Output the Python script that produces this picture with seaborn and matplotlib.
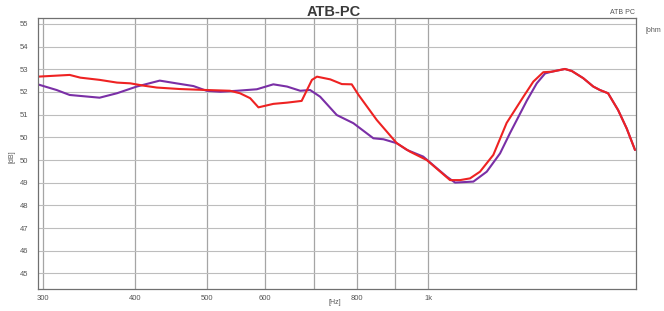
import matplotlib
matplotlib.use("Agg")
import matplotlib.pyplot as plt
import seaborn as sns
import pandas as pd
import numpy as np

# ---- data ----
red_freq = [295, 326, 337, 358, 378, 394, 410, 428, 460, 500, 538, 555, 573, 588,
            616, 643, 673, 695, 706, 736, 763, 787, 804, 851, 906, 944, 995, 1070,
            1104, 1139, 1175, 1225, 1277, 1345, 1388, 1432, 1470, 1532, 1565, 1622,
            1674, 1709, 1753, 1809, 1858, 1907]
red_db = [52.87, 52.94, 52.83, 52.74, 52.63, 52.60, 52.51, 52.43, 52.37, 52.33, 52.30,
          52.20, 52.00, 51.63, 51.77, 51.82, 51.89, 52.74, 52.87, 52.76, 52.57, 52.56,
          52.13, 51.12, 50.18, 49.84, 49.50, 48.69, 48.69, 48.76, 49.03, 49.71, 51.00,
          52.05, 52.67, 53.05, 53.07, 53.18, 53.10, 52.81, 52.47, 52.33, 52.20, 51.52,
          50.78, 49.91]

purple_freq = [295, 313, 326, 358, 378, 402, 432, 455, 480, 500, 522, 550, 585, 616,
               643, 670, 691, 713, 751, 791, 842, 869, 906, 935, 984, 1021, 1059, 1087,
               1151, 1200, 1251, 1291, 1360, 1403, 1440, 1470, 1532, 1565, 1622, 1674,
               1709, 1753, 1809, 1858, 1907]
purple_db = [52.56, 52.33, 52.13, 52.02, 52.20, 52.47, 52.71, 52.60, 52.49, 52.30, 52.26,
             52.30, 52.36, 52.56, 52.47, 52.30, 52.33, 52.06, 51.32, 50.99, 50.38, 50.34,
             50.18, 49.91, 49.64, 49.23, 48.83, 48.59, 48.63, 49.03, 49.77, 50.60, 51.90,
             52.60, 53.00, 53.07, 53.18, 53.10, 52.81, 52.47, 52.33, 52.20, 51.52, 50.78,
             49.91]

y_tick_labels = ["55", "54", "53", "52", "51", "50", "50", "49", "48", "47", "46", "45"]
x_tick_values = [300, 400, 500, 600, 700, 800, 900, 1000]
x_tick_labels = ["300", "400", "500", "600", "", "800", "", "1k"]
series_names = ["purple", "red"]

df = pd.concat([
    pd.DataFrame({"freq": purple_freq, "db": purple_db, "series": "purple"}),
    pd.DataFrame({"freq": red_freq, "db": red_db, "series": "red"}),
], ignore_index=True)

sns.set_style("white")
plt.rcParams["font.family"] = ["Liberation Sans", "DejaVu Sans"]

fig = plt.figure(figsize=(6.64, 3.11), dpi=100)
ax = fig.add_axes([38 / 664, 1 - 289 / 311, 598 / 664, 271 / 311])

sns.lineplot(data=df, x="freq", y="db", hue="series", hue_order=series_names,
             palette={"purple": "#7a2fa6", "red": "#ee2222"}, sort=False,
             estimator=None, linewidth=1.5, legend=False, ax=ax)

ax.set_xscale("log")
ax.set_xlim(295.3, 1913)
ax.set_ylim(44.29, 55.24)

y_ticks = [55 - k * 11 / 12 for k in range(len(y_tick_labels))]
ax.set_yticks(y_ticks)
ax.set_yticklabels(y_tick_labels)
ax.set_xticks(x_tick_values)
ax.set_xticklabels(x_tick_labels)
ax.xaxis.set_minor_locator(matplotlib.ticker.NullLocator())
ax.tick_params(axis="both", length=0, labelsize=5.5, colors="#555555")
ax.tick_params(axis="y", pad=7)
ax.tick_params(axis="x", pad=4)

ax.grid(True, axis="y", color="#bdbdbd", linewidth=0.8)
ax.grid(True, axis="x", color="#a5a5a5", linewidth=0.9)
ax.set_axisbelow(True)
for s in ax.spines.values():
    s.set_color("#707070")
    s.set_linewidth(0.9)

ax.set_xlabel("")
ax.set_ylabel("")
fig.text(335 / 664, 1 - 302 / 311, "[Hz]", fontsize=5, color="#555555",
         ha="center", va="center")
fig.text(12 / 664, 1 - 157 / 311, "[dB]", fontsize=5, color="#555555",
         ha="center", va="center", rotation=90)
fig.text(334 / 664, 1 - 12 / 311, "ATB-PC", fontsize=10.5, fontweight="bold",
         color="#3a3a3a", ha="center", va="center")
fig.text(635 / 664, 1 - 13 / 311, "ATB PC", fontsize=5, color="#555555",
         ha="right", va="center")
fig.text(645 / 664, 1 - 30 / 311, "[ohm", fontsize=5, color="#555555",
         ha="left", va="center")

fig.savefig("out.png", dpi=100)
